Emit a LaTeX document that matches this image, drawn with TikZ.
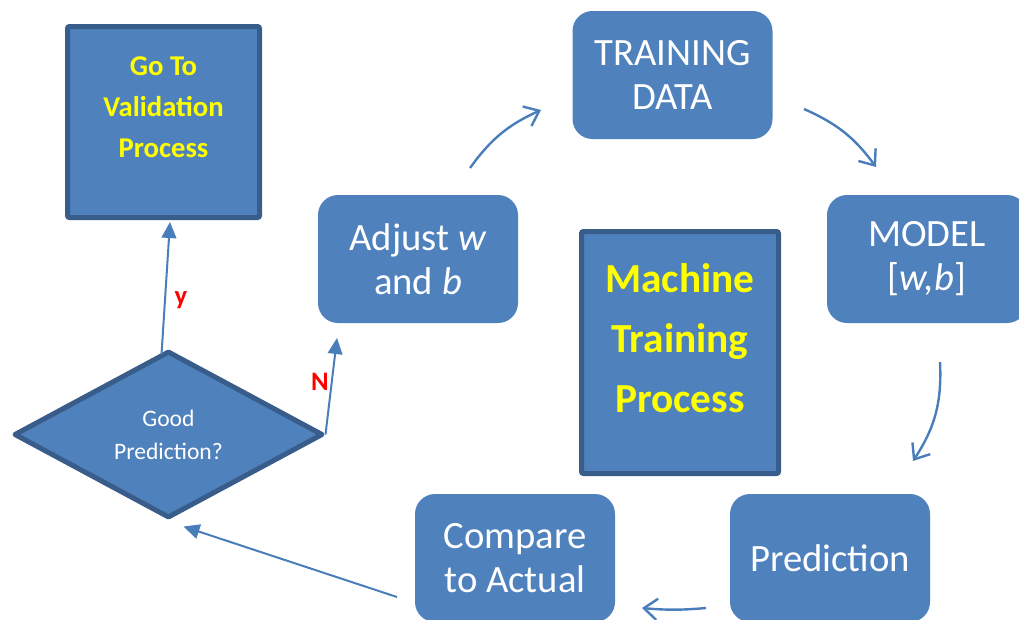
\documentclass[tikz,border=0pt]{standalone}
\usepackage{fontspec}
\setmainfont{Carlito}
\usetikzlibrary{shapes.geometric,arrows.meta,calc}
\definecolor{boxfill}{HTML}{4F81BD}
\definecolor{boxline}{HTML}{385D8A}
\definecolor{arrowc}{HTML}{4A7EBB}
\definecolor{ylw}{HTML}{FFFF00}
\definecolor{lblred}{HTML}{FF0000}
\begin{document}
\begin{tikzpicture}[x=0.75pt,y=-0.75pt,
  rbox/.style={fill=boxfill, rounded corners=15pt, minimum width=150pt, minimum height=96pt,
    inner sep=0pt, text=white, align=center, font=\fontsize{29}{33}\selectfont},
  sbox/.style={fill=boxfill, draw=boxline, line width=3.75pt, rounded corners=1.5pt, inner sep=0pt},
  ytext/.style={text=ylw, align=center, inner sep=0pt},
  curv/.style={draw=arrowc, line width=1.8pt, -{Straight Barb[length=10pt,width=16pt]}},
  strarrow/.style={draw=arrowc, line width=1.5pt, -{Triangle[length=12pt,width=11pt]}},
  lbl/.style={text=lblred, font=\bfseries\fontsize{20}{24}\selectfont, inner sep=0pt}]
\useasboundingbox (0,0) rectangle (1019,619);

% rounded boxes
\node[rbox] (train) at (672.5,75) {TRAINING\\DATA};
\node[rbox] (model) at (927,259) {MODEL\\{[}\textit{w,b}{]}};
\node[rbox] (adjust) at (418,259) {Adjust \textit{w}\\and \textit{b}};
\node[rbox] (pred) at (830,558) {Prediction};
\node[rbox] (comp) at (515,558) {Compare\\to Actual};

% square boxes
\node[sbox, minimum width=144pt, minimum height=143.25pt] (go) at (163.5,122) {};
\node[ytext, font=\bfseries\fontsize{21.5}{30.75}\selectfont] (gotxt) at (163.5,107) {Go To\\Validation\\Process};
\node[sbox, minimum width=147.75pt, minimum height=181.5pt] (mtp) at (680,352.5) {};
\node[ytext, font=\bfseries\fontsize{31}{45}\selectfont] (mtptxt) at (680,338) {Machine\\Training\\Process};

% decision
\node[diamond, fill=boxfill, draw=boxline, line width=3.75pt, line join=round,
  minimum width=231.75pt, minimum height=125.25pt, inner sep=0pt, text=white, align=center,
  font=\fontsize{17.7}{24.75}\selectfont] (diam) at (168.5,434.5) {Good\\Prediction?};

% cycle arrows
\coordinate (a1s) at (470,168);
\coordinate (a1e) at (541,110);
\coordinate (a2s) at (804,109);
\coordinate (a2e) at (876,167);
\coordinate (a3s) at (940,362);
\coordinate (a3e) at (913,461);
\coordinate (a4s) at (706,608);
\coordinate (a4e) at (642,608);
\draw[curv] (a1s) to[bend left=15] (a1e);
\draw[curv] (a2s) to[bend left=15] (a2e);
\draw[curv] (a3s) to[bend left=18] (a3e);
\draw[curv] (a4s) to[bend left=5] (a4e);

% decision arrows
\coordinate (cs) at (397,597);
\draw[strarrow] (cs) -- ($(diam.south)+(15,6)$);
\draw[strarrow] ($(diam.north)+(-7,6)$) -- ($(go.south)+(6.5,2)$);
\coordinate (nend) at (337,338);
\draw[strarrow] (diam.east) -- (nend);

\node[lbl] (ylbl) at (181,300) {y};
\node[lbl] (nlbl) at (320,382) {N};
\end{tikzpicture}
\end{document}
